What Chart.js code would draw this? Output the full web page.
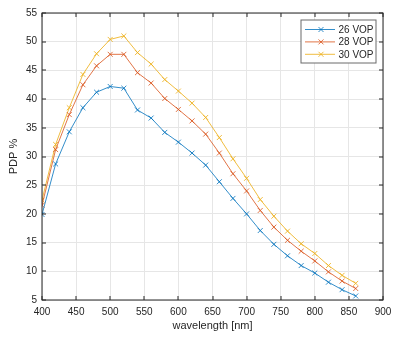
<!DOCTYPE html>
<html>
<head>
<meta charset="utf-8">
<script src="https://cdn.jsdelivr.net/npm/chart.js@4.4.1/dist/chart.umd.min.js"></script>
<style>
  body { margin: 0; background: #fff; }
  canvas { display: block; }
</style>
</head>
<body>
<canvas id="pdpChart" width="400" height="339"></canvas>
<script>
// wavelength sweep, 20 nm steps
const wavelengths = [400, 420, 440, 460, 480, 500, 520, 540, 560, 580, 600, 620,
                     640, 660, 680, 700, 720, 740, 760, 780, 800, 820, 840, 860];
const vop26 = [19.9, 28.7, 34.3, 38.5, 41.2, 42.2, 41.9, 38.1, 36.7, 34.2, 32.5, 30.6,
               28.5, 25.6, 22.7, 20.0, 17.1, 14.7, 12.7, 11.0, 9.7, 8.1, 6.8, 5.7];
const vop28 = [21.5, 31.2, 37.3, 42.5, 45.8, 47.8, 47.8, 44.6, 42.8, 40.1, 38.2, 36.2,
               33.9, 30.6, 27.0, 24.0, 20.6, 17.7, 15.4, 13.5, 11.8, 9.9, 8.3, 7.0];
const vop30 = [22.4, 32.1, 38.5, 44.3, 47.9, 50.4, 51.0, 48.1, 46.1, 43.4, 41.4, 39.3,
               36.8, 33.3, 29.6, 26.2, 22.5, 19.6, 17.0, 14.8, 13.1, 11.0, 9.3, 7.9];
const seriesLabels = ['26 VOP', '28 VOP', '30 VOP'];
const seriesColors = ['rgba(0,114,189,0.8)', 'rgba(217,83,25,0.8)', 'rgba(237,177,32,0.85)'];

const fontFamily = '"Liberation Sans", Arial, sans-serif';
const textColor = '#262626';
const axisColor = '#262626';

function makeSet(label, values, color) {
    return {
        label: label,
        data: wavelengths.map((w, i) => ({ x: w, y: values[i] })),
        borderColor: color,
        backgroundColor: color,
        borderWidth: 1,
        pointStyle: 'crossRot',
        pointRadius: 3.5,
        pointBorderWidth: 1,
        tension: 0
    };
}

// frame, inward ticks and the legend box (matlab style)
const frameAndLegend = {
    id: 'frameAndLegend',
    afterDraw(chart) {
        const ctx = chart.ctx;
        const a = chart.chartArea;
        const xs = chart.scales.x;
        const ys = chart.scales.y;
        const tl = 4;
        ctx.save();
        ctx.strokeStyle = axisColor;
        ctx.lineWidth = 1;
        ctx.beginPath();
        xs.ticks.forEach(t => {
            const px = Math.round(xs.getPixelForValue(t.value));
            ctx.moveTo(px, a.bottom); ctx.lineTo(px, a.bottom - tl);
            ctx.moveTo(px, a.top); ctx.lineTo(px, a.top + tl);
        });
        ys.ticks.forEach(t => {
            const py = Math.round(ys.getPixelForValue(t.value));
            ctx.moveTo(a.left, py); ctx.lineTo(a.left + tl, py);
            ctx.moveTo(a.right, py); ctx.lineTo(a.right - tl, py);
        });
        ctx.stroke();
        ctx.strokeRect(Math.round(a.left), Math.round(a.top),
                       Math.round(a.right - a.left), Math.round(a.bottom - a.top));

        // legend
        const bx = 301, by = 20, bw = 75, bh = 43;
        ctx.fillStyle = '#fff';
        ctx.fillRect(bx, by, bw, bh);
        ctx.strokeStyle = '#6a6a6a';
        ctx.strokeRect(bx, by, bw, bh);
        ctx.font = '10px ' + fontFamily;
        ctx.textBaseline = 'middle';
        ctx.textAlign = 'left';
        chart.data.datasets.forEach((ds, i) => {
            const y = by + 9.5 + i * 12.4;
            ctx.strokeStyle = ds.borderColor;
            ctx.beginPath();
            ctx.moveTo(305, y); ctx.lineTo(335, y);
            const mx = 321, r = 2.5;
            ctx.moveTo(mx - r, y - r); ctx.lineTo(mx + r, y + r);
            ctx.moveTo(mx - r, y + r); ctx.lineTo(mx + r, y - r);
            ctx.stroke();
            ctx.fillStyle = textColor;
            ctx.fillText(ds.label, 338.5, y + 0.5);
        });
        ctx.restore();
    }
};

const pdpCtx = document.getElementById('pdpChart').getContext('2d');
const pdpChart = new Chart(pdpCtx, {
    type: 'line',
    data: {
        datasets: [
            makeSet(seriesLabels[0], vop26, seriesColors[0]),
            makeSet(seriesLabels[1], vop28, seriesColors[1]),
            makeSet(seriesLabels[2], vop30, seriesColors[2])
        ]
    },
    options: {
        responsive: false,
        animation: false,
        layout: { padding: { left: 0, right: 17, top: 13, bottom: 0 } },
        plugins: {
            legend: { display: false },
            tooltip: { enabled: false }
        },
        scales: {
            x: {
                type: 'linear',
                min: 400,
                max: 900,
                afterFit: function(scale) { scale.height = 39; },
                ticks: {
                    stepSize: 50,
                    padding: 6,
                    color: textColor,
                    font: { family: fontFamily, size: 10 },
                    maxRotation: 0
                },
                grid: { color: '#e6e6e6', drawTicks: false },
                border: { display: false },
                title: {
                    display: true,
                    text: 'wavelength [nm]',
                    color: textColor,
                    font: { family: fontFamily, size: 11 },
                    padding: { top: 0, bottom: 6 }
                }
            },
            y: {
                min: 5,
                max: 55,
                afterFit: function(scale) { scale.width = 42; },
                ticks: {
                    stepSize: 5,
                    padding: 5,
                    color: textColor,
                    font: { family: fontFamily, size: 10 }
                },
                grid: { color: '#e6e6e6', drawTicks: false },
                border: { display: false },
                title: {
                    display: true,
                    text: 'PDP %',
                    color: textColor,
                    font: { family: fontFamily, size: 11 },
                    padding: { top: 7, bottom: 0 }
                }
            }
        }
    },
    plugins: [frameAndLegend]
});
</script>
</body>
</html>
